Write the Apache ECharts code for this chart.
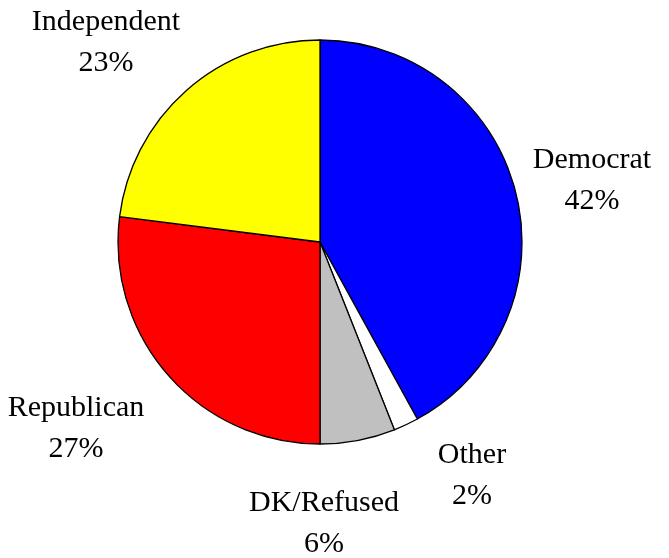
<!DOCTYPE html>
<html><head><meta charset="utf-8">
<script src="https://cdn.jsdelivr.net/npm/echarts@6/dist/echarts.min.js"></script>
<style>html,body{margin:0;padding:0;background:#fff}#c{width:669px;height:558px}</style>
</head><body><div id="c"></div>
<script>
const categories = ['Democrat', 'Other', 'DK/Refused', 'Republican', 'Independent'];
const values = [42, 2, 6, 27, 23];
const colors = ['#0000FF', '#FFFFFF', '#C0C0C0', '#FF0000', '#FFFF00'];
const labelPos = [[592, 181], [472, 476], [324, 524], [76, 429], [106, 43]];

const chart = echarts.init(document.getElementById('c'));
chart.setOption({
  animation: false,
  series: [{
    type: 'pie',
    center: [320, 242],
    radius: 202,
    startAngle: 90,
    clockwise: true,
    avoidLabelOverlap: false,
    data: categories.map((c, i) => ({ name: c, value: values[i], itemStyle: { color: colors[i] } })),
    itemStyle: { borderColor: '#000', borderWidth: 1.3 },
    label: {
      show: true,
      position: 'outside',
      formatter: p => p.name + '\n' + p.value + '%',
      fontFamily: 'Liberation Serif',
      fontSize: 30,
      lineHeight: 41,
      color: '#000',
      align: 'center'
    },
    labelLine: { show: false },
    labelLayout: function (p) {
      const pos = labelPos[p.dataIndex];
      return { x: pos[0], y: pos[1], align: 'center', verticalAlign: 'middle' };
    },
    emphasis: { disabled: true }
  }]
});
</script></body></html>
